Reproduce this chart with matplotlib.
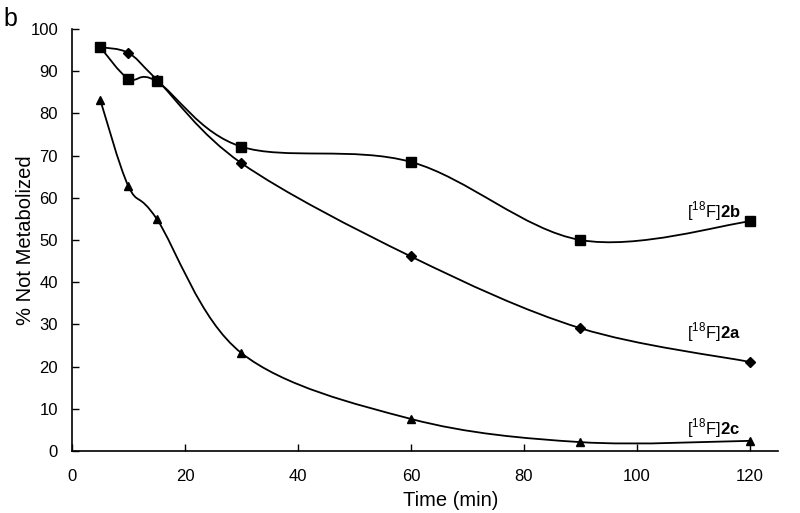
import numpy as np
import matplotlib
matplotlib.use("Agg")
import matplotlib.pyplot as plt
from matplotlib.path import Path
from matplotlib.patches import PathPatch

plt.rcParams['font.family'] = ['Liberation Sans', 'DejaVu Sans']
plt.rcParams['mathtext.fontset'] = 'custom'
plt.rcParams['mathtext.rm'] = 'Liberation Sans'
plt.rcParams['mathtext.bf'] = 'Liberation Sans:bold'

time_min = [5, 10, 15, 30, 60, 90, 120]
series_2a = [95.7, 94.3, 88.0, 68.2, 46.1, 29.1, 21.1]
series_2b = [95.7, 88.2, 87.6, 72.1, 68.5, 50.0, 54.4]
series_2c = [83.2, 62.7, 55.0, 23.2, 7.6, 2.1, 2.4]
labels = [r'[$^{18}$F]$\mathbf{2a}$', r'[$^{18}$F]$\mathbf{2b}$', r'[$^{18}$F]$\mathbf{2c}$']
label_pos = [(113.6, 28.2), (113.6, 56.8), (113.6, 5.4)]
markers = ['D', 's', '^']
msizes = [5, 7, 6]

fig = plt.figure(figsize=(8, 5.13), dpi=100)
ax = fig.add_axes([0.09, 0.1209, 0.8825, 0.8226])
ax.set_xlim(0, 125)
ax.set_ylim(0, 100)

def smooth_path(x, y, sx=5.667, sy=4.22):
    # Excel-like Bezier smoothing computed in screen-proportional space
    P = np.column_stack([np.asarray(x, float) * sx, np.asarray(y, float) * sy])
    n = len(P)
    verts = [P[0]]
    codes = [Path.MOVETO]
    for i in range(n - 1):
        p0 = P[i - 1] if i > 0 else P[i]
        p1 = P[i]
        p2 = P[i + 1]
        p3 = P[i + 2] if i + 2 < n else P[i + 1]
        c1 = p1 + (p2 - p0) / 6.0
        c2 = p2 - (p3 - p1) / 6.0
        verts += [c1, c2, p2]
        codes += [Path.CURVE4] * 3
    V = np.array(verts)
    V[:, 0] /= sx
    V[:, 1] /= sy
    return Path(V, codes)

for ys, m, ms in zip([series_2a, series_2b, series_2c], markers, msizes):
    ax.add_patch(PathPatch(smooth_path(time_min, ys), fill=False, lw=1.3, ec='black', zorder=2))
    ax.plot(time_min, ys, ls='none', marker=m, ms=ms, color='black', zorder=3)

for lab, (lx, ly) in zip(labels, label_pos):
    ax.text(lx, ly, lab, ha='center', va='center', fontsize=12)

ax.set_xticks(range(0, 121, 20))
ax.set_yticks(range(0, 101, 10))
ax.tick_params(direction='in', length=5, width=1, labelsize=12)
ax.tick_params(axis='x', pad=13)
ax.tick_params(axis='y', pad=10)
for s in ['top', 'right']:
    ax.spines[s].set_visible(False)
for s in ['left', 'bottom']:
    ax.spines[s].set_linewidth(1.2)
ax.set_xlabel('Time (min)', fontsize=14.5)
ax.xaxis.set_label_coords((451 - 72) / 706, -0.095)
ax.set_ylabel('% Not Metabolized', fontsize=14.5)
ax.yaxis.set_label_coords(-0.053, 0.5)
fig.text(0.004, 0.987, 'b', fontsize=18, ha='left', va='top')

fig.savefig('out.png', dpi=100)
